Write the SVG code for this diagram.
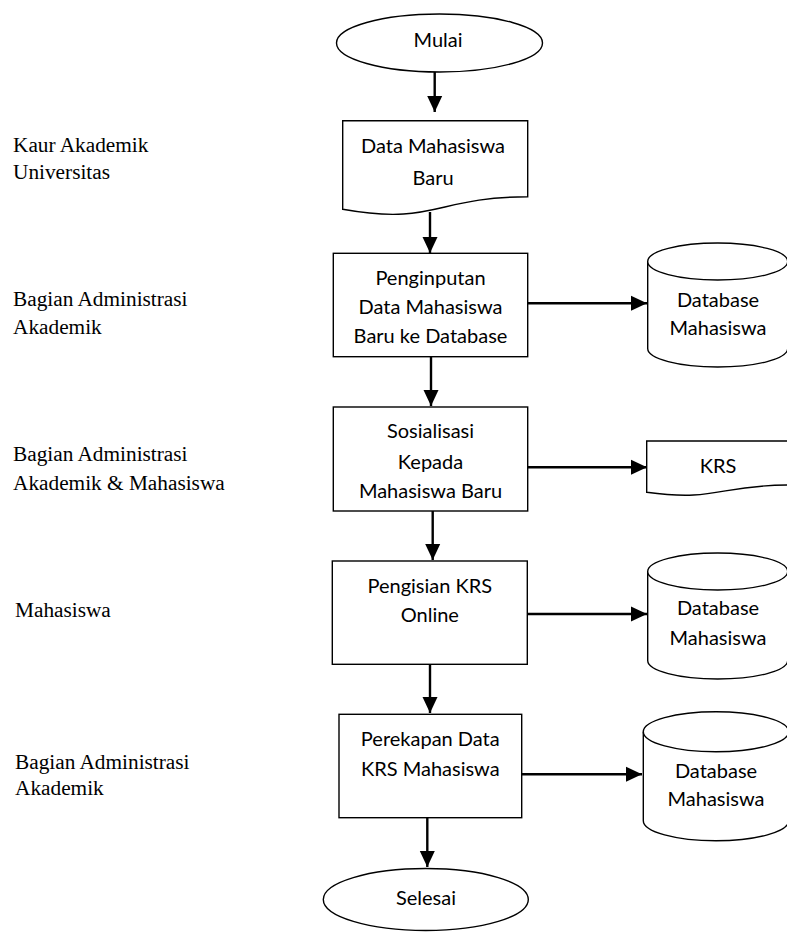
<svg xmlns="http://www.w3.org/2000/svg" width="787" height="932" viewBox="0 0 787 932">
  <defs>
    <marker id="arrowhead" markerUnits="userSpaceOnUse" markerWidth="16" markerHeight="16" viewBox="0 0 16 16" refX="16" refY="8" orient="auto">
      <path d="M0,0.5 L16,8 L0,15.5 Z" fill="#000"/>
    </marker>
    <style>
      .shape { fill: #fff; stroke: #000; stroke-width: 1.4; }
      .label { font-family: Lato, "Open Sans", sans-serif; font-size: 20px; fill: #000; text-anchor: middle; }
      .lane { font-family: "Liberation Serif", "Times New Roman", serif; font-size: 21.3px; fill: #000; }
      .flow { fill: none; stroke: #000; stroke-width: 2.4; marker-end: url(#arrowhead); }
    </style>
  </defs>
  <rect width="787" height="932" fill="#fff"/>

  <!-- actor labels on the left -->
  <g id="lanes">
    <text class="lane" x="13" y="152">Kaur Akademik</text>
    <text class="lane" x="13" y="179">Universitas</text>
    <text class="lane" x="13" y="306">Bagian Administrasi</text>
    <text class="lane" x="13" y="334">Akademik</text>
    <text class="lane" x="13" y="461">Bagian Administrasi</text>
    <text class="lane" x="13" y="490">Akademik &amp; Mahasiswa</text>
    <text class="lane" x="15" y="617">Mahasiswa</text>
    <text class="lane" x="15" y="769">Bagian Administrasi</text>
    <text class="lane" x="15" y="795">Akademik</text>
  </g>

  <!-- connectors -->
  <g id="connectors">
    <line class="flow" x1="434.7" y1="72" x2="434.7" y2="112"/>
    <line class="flow" x1="430" y1="212" x2="430" y2="253"/>
    <line class="flow" x1="431" y1="357" x2="431" y2="406"/>
    <line class="flow" x1="432.7" y1="511" x2="432.7" y2="560"/>
    <line class="flow" x1="430" y1="664" x2="430" y2="713"/>
    <line class="flow" x1="427.3" y1="818" x2="427.3" y2="867"/>
    <line class="flow" x1="528" y1="303.3" x2="647" y2="303.3"/>
    <line class="flow" x1="528" y1="467.3" x2="647" y2="467.3"/>
    <line class="flow" x1="527.3" y1="614" x2="647" y2="614"/>
    <line class="flow" x1="521.7" y1="774.3" x2="642" y2="774.3"/>
  </g>

  <!-- start terminator -->
  <g id="start">
    <ellipse class="shape" cx="439.5" cy="43" rx="103" ry="29"/>
    <text class="label" x="438" y="47">Mulai</text>
  </g>

  <!-- input document -->
  <g id="doc-new-students">
    <path class="shape" d="M342.7,120.7 H527.7 V196.8 C435.2,196.8 435.2,225.8 342.7,209.3 Z"/>
    <text class="label" x="433" y="153">Data Mahasiswa</text>
    <text class="label" x="433" y="185">Baru</text>
  </g>

  <!-- process: data entry -->
  <g id="proc-input">
    <rect class="shape" x="333.3" y="253.3" width="194.4" height="103.4"/>
    <text class="label" x="430.5" y="285">Penginputan</text>
    <text class="label" x="430.5" y="314.3">Data Mahasiswa</text>
    <text class="label" x="430.5" y="343.3">Baru ke Database</text>
  </g>

  <!-- database 1 -->
  <g id="db-students-1">
    <path class="shape" d="M647.7,261.5 V348.5 A70,18.5 0 0 0 787.7,348.5 V261.5"/>
    <ellipse class="shape" cx="717.7" cy="261.5" rx="70" ry="18.5"/>
    <text class="label" x="718" y="307.3">Database</text>
    <text class="label" x="718" y="335">Mahasiswa</text>
  </g>

  <!-- process: orientation -->
  <g id="proc-orientation">
    <rect class="shape" x="333.3" y="407" width="194.4" height="104"/>
    <text class="label" x="430.5" y="438.3">Sosialisasi</text>
    <text class="label" x="430.5" y="469.3">Kepada</text>
    <text class="label" x="430.5" y="498.3">Mahasiswa Baru</text>
  </g>

  <!-- KRS document -->
  <g id="doc-krs">
    <path class="shape" d="M646.7,441 H789.3 V485 C718,485 718,501.8 646.7,492.3 Z"/>
    <text class="label" x="718" y="472.7">KRS</text>
  </g>

  <!-- process: online KRS -->
  <g id="proc-krs-online">
    <rect class="shape" x="332.3" y="561" width="195" height="103.3"/>
    <text class="label" x="429.8" y="592.7">Pengisian KRS</text>
    <text class="label" x="429.8" y="621.7">Online</text>
  </g>

  <!-- database 2 -->
  <g id="db-students-2">
    <path class="shape" d="M647.7,571.5 V660.5 A70,18.5 0 0 0 787.7,660.5 V571.5"/>
    <ellipse class="shape" cx="717.7" cy="571.5" rx="70" ry="18.5"/>
    <text class="label" x="718" y="615">Database</text>
    <text class="label" x="718" y="645">Mahasiswa</text>
  </g>

  <!-- process: recap -->
  <g id="proc-recap">
    <rect class="shape" x="339" y="714.3" width="182.7" height="103.4"/>
    <text class="label" x="430.3" y="746">Perekapan Data</text>
    <text class="label" x="430.3" y="776">KRS Mahasiswa</text>
  </g>

  <!-- database 3 -->
  <g id="db-students-3">
    <path class="shape" d="M643.3,731.7 V820.7 A72.7,20 0 0 0 788.7,820.7 V731.7"/>
    <ellipse class="shape" cx="716" cy="731.7" rx="72.7" ry="20"/>
    <text class="label" x="716" y="777.7">Database</text>
    <text class="label" x="716" y="805.7">Mahasiswa</text>
  </g>

  <!-- end terminator -->
  <g id="end">
    <ellipse class="shape" cx="425.8" cy="899.5" rx="102.5" ry="31"/>
    <text class="label" x="426" y="905">Selesai</text>
  </g>
</svg>
